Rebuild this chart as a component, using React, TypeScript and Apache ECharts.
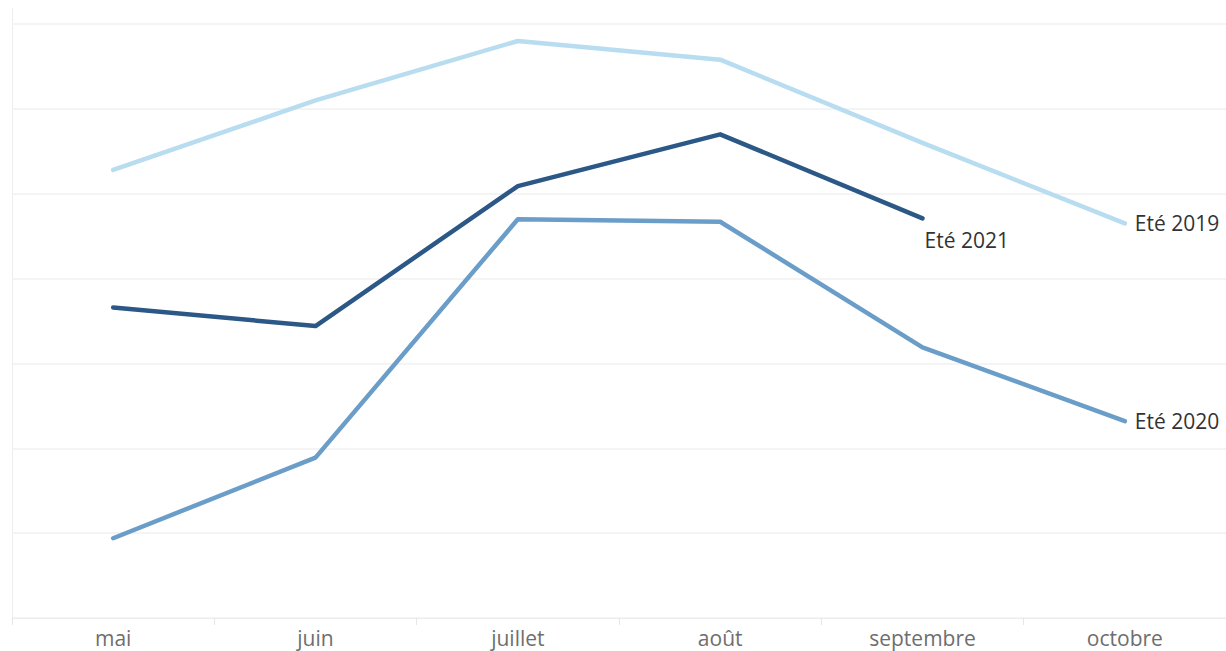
import React, { useEffect, useRef } from "react";
import * as echarts from "echarts";

const months = ["mai", "juin", "juillet", "août", "septembre", "octobre"];
const ete2019 = [5.28, 6.1, 6.8, 6.58, 5.6, 4.65];
const ete2020 = [0.94, 1.89, 4.7, 4.67, 3.19, 2.32];
const ete2021 = [3.66, 3.44, 5.09, 5.7, 4.71];

const FONT = "'Open Sans', 'Noto Sans', sans-serif";

export default function App() {
  const ref = useRef<HTMLDivElement>(null);
  useEffect(() => {
    if (!ref.current) return;
    const chart = echarts.init(ref.current, undefined, { renderer: "svg" });
    const lineSeries = (name: string, data: number[], color: string, endLabel: any) => ({
      name,
      type: "line",
      data,
      symbol: "none",
      lineStyle: { color, width: 4.5, cap: "round", join: "round" },
      itemStyle: { color },
      z: name === "Eté 2021" ? 4 : 3,
      endLabel: {
        show: true,
        formatter: name,
        color: "#333333",
        fontSize: 21,
        fontFamily: FONT,
        ...endLabel,
      },
    });
    chart.setOption({
      animation: false,
      grid: { left: 12, right: -3, top: 24, bottom: 33 },
      xAxis: {
        type: "category",
        data: months,
        boundaryGap: true,
        axisLine: { show: true, lineStyle: { color: "#eeeeee", width: 1 } },
        axisTick: { show: true, length: 7, lineStyle: { color: "#e6e6e6" } },
        axisLabel: { color: "#6e6e6e", fontSize: 21, fontFamily: FONT, margin: 9 },
        splitLine: { show: false },
      },
      yAxis: {
        type: "value",
        min: 0,
        max: 7,
        interval: 1,
        axisLine: { show: false },
        axisTick: { show: false },
        axisLabel: { show: false },
        splitLine: { show: true, lineStyle: { color: "#f0f0f0", width: 1.5 } },
      },
      graphic: [
        {
          type: "line",
          shape: { x1: 12.5, y1: 8, x2: 12.5, y2: 618 },
          style: { stroke: "#eeeeee", lineWidth: 1 },
          silent: true,
        },
      ],
      series: [
        lineSeries("Eté 2019", ete2019, "#b8dcf0", { distance: 10 }),
        lineSeries("Eté 2020", ete2020, "#6a9ec9", { distance: 10 }),
        lineSeries("Eté 2021", ete2021, "#2b5886", { distance: 0, offset: [2, 22] }),
      ],
    });
    return () => chart.dispose();
  }, []);
  return (
    <div
      ref={ref}
      style={{ position: "fixed", left: 0, top: 0, width: 1226, height: 651, background: "#ffffff" }}
    />
  );
}
